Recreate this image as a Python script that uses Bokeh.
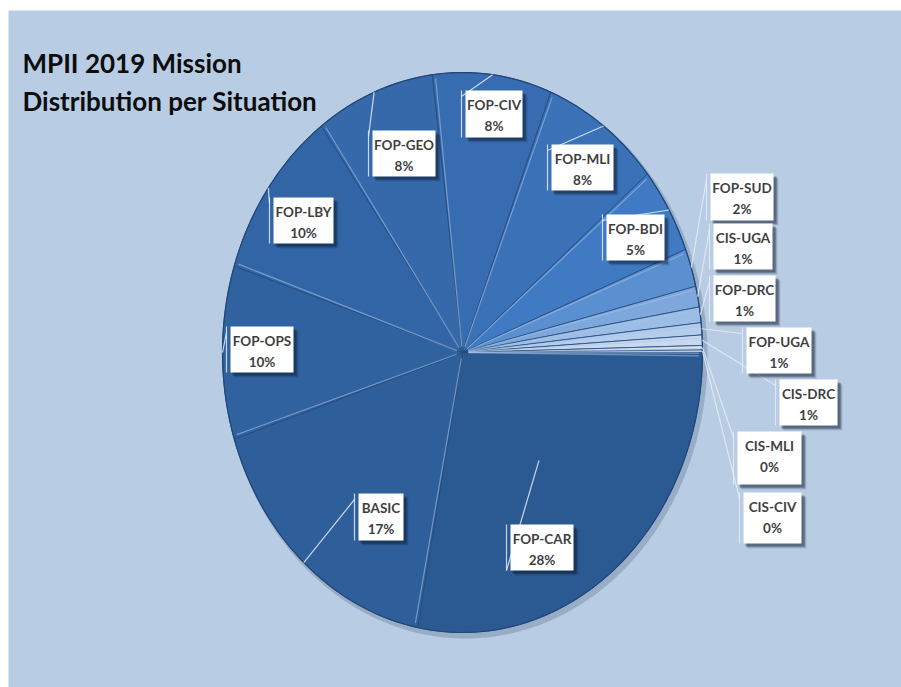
import numpy as np
from bokeh.plotting import figure
from bokeh.models import Range1d, ColumnDataSource
from bokeh.core.properties import value
from bokeh.embed import file_html
from bokeh.resources import INLINE

# ---- data ----
situations = ["FOP-CAR", "BASIC", "FOP-OPS", "FOP-LBY", "FOP-GEO", "FOP-CIV", "FOP-MLI",
              "FOP-BDI", "FOP-SUD", "CIS-UGA", "FOP-DRC", "FOP-UGA", "CIS-DRC", "CIS-MLI", "CIS-CIV"]
shares = [28.0, 17.0, 10.0, 10.0, 8.0, 8.0, 8.0, 5.0, 2.2, 1.2, 0.9, 0.7, 0.6, 0.25, 0.15]
pct_labels = ["28%", "17%", "10%", "10%", "8%", "8%", "8%", "5%", "2%", "1%", "1%", "1%", "1%", "0%", "0%"]

# ---- styling / layout ----
slice_colors = ["#2b5a93", "#2e5f9b", "#3062a0", "#3265a5", "#3569aa", "#376cb0", "#3a71b7",
                "#3f7ac2", "#5a8fd0", "#7ea8dc", "#9cbde5", "#b5cdec", "#c8d8ee", "#d6dfea", "#bcc8d6"]
# label box: left, top, width, height (page pixels)
box_left = [510, 358, 230, 273, 372, 465, 551, 606, 710, 713, 713, 746, 779, 737, 743]
box_top = [524, 493, 326, 197, 130, 90, 144, 214, 173, 223, 275, 327, 379, 431, 492]
box_w = [63, 45, 63, 60, 63, 57, 62, 58, 63, 59, 62, 65, 58, 64, 58]
box_h = [46, 47, 46, 46, 46, 47, 46, 46, 47, 46, 46, 46, 46, 53, 51]
leader_r = [0.5, 1.0, 1.0, 1.0, 1.0, 1.0, 1.0, 1.0, 1.0, 1.0, 1.0, 1.0, 1.0, 1.0, 1.0]
attach = ["bottom", "top", "top", "top", "top", "top", "top", "top", "top", "top", "top", "top", "top", "top", "top"]

W, H = 901, 687
cx, cy, rx, ry = 462.0, 352.0, 240.0, 280.0
bg = "#b8cce4"

p = figure(width=W, height=H, output_backend="svg", toolbar_location=None,
           x_range=Range1d(0, W), y_range=Range1d(H, 0), min_border=0)
p.axis.visible = False
p.grid.visible = False
p.outline_line_color = None
p.background_fill_color = "white"
p.border_fill_color = "white"

# light blue panel
p.quad(left=[8], right=[W], top=[10], bottom=[H], fill_color=bg, line_color=None)

# ---- pie slices (clockwise from 3 o'clock), drawn as ellipse wedges ----
vals = np.array(shares, dtype=float)
frac = vals / vals.sum()
ends = np.cumsum(frac) * 2 * np.pi
starts = ends - frac * 2 * np.pi
mids = (starts + ends) / 2

xs, ys = [], []
for a0, a1 in zip(starts, ends):
    n = max(4, int((a1 - a0) / (2 * np.pi) * 360))
    t = np.linspace(a0, a1, n)
    xs.append([cx] + list(cx + rx * np.cos(t)) + [cx])
    ys.append([cy] + list(cy + ry * np.sin(t)) + [cy])

# soft shadow of the pie
ts = np.linspace(0, 2 * np.pi, 240)
p.patch(cx + 3 + (rx + 2) * np.cos(ts), cy + 4 + (ry + 2) * np.sin(ts),
        fill_color="#5a6f8c", fill_alpha=0.35, line_color=None)

p.patches(xs, ys, fill_color=slice_colors, line_color="#234a7c", line_width=1.0, line_alpha=0.8)

# bevel highlights along the leading edge of each slice
hx, hy = [], []
for a0 in starts:
    a = a0 + 0.012
    hx.append([cx + 6 * np.cos(a), cx + rx * 0.985 * np.cos(a)])
    hy.append([cy + 6 * np.sin(a), cy + ry * 0.985 * np.sin(a)])
p.multi_line(hx, hy, line_color="#a9c4e8", line_alpha=0.55, line_width=1.2)
p.patch(cx + rx * np.cos(ts), cy + ry * np.sin(ts), fill_color=None,
        line_color="#21477a", line_width=1.2)

# ---- leader lines ----
lx, ly = [], []
for i in range(len(situations)):
    sx = cx + rx * leader_r[i] * np.cos(mids[i])
    sy = cy + ry * leader_r[i] * np.sin(mids[i])
    ex = box_left[i] - 4
    top = box_top[i]
    bot = box_top[i] + box_h[i]
    ey = bot if attach[i] == "bottom" else top + 6
    lx.append([sx, ex])
    ly.append([sy, ey])
    lx.append([ex, ex])
    ly.append([top, bot])
p.multi_line(lx, ly, line_color="#e4ecf7", line_alpha=0.85, line_width=1.2)

# ---- label boxes ----
bl = np.array(box_left, float)
bt = np.array(box_top, float)
bw = np.array(box_w, float)
bh = np.array(box_h, float)
for k, al in [(5, 0.12), (4, 0.2), (3, 0.35)]:
    p.quad(left=bl + k - 1, right=bl + bw + k, top=bt + k, bottom=bt + bh + k,
           fill_color="#0b1a2e", fill_alpha=al, line_color=None)
p.quad(left=bl, right=bl + bw, top=bt, bottom=bt + bh, fill_color="white", line_color=None)

src = ColumnDataSource(dict(
    x=bl + bw / 2, y1=bt + 14, y2=bt + 35,
    name=situations, pct=pct_labels))
p.text(x="x", y="y1", text="name", source=src, text_align="center", text_baseline="middle",
       text_font=value("Lato"), text_font_style="bold", text_font_size="13.5px", text_color="#3f3f3f")
p.text(x="x", y="y2", text="pct", source=src, text_align="center", text_baseline="middle",
       text_font=value("Lato"), text_font_style="bold", text_font_size="13.5px", text_color="#3f3f3f")

# ---- title ----
p.text(x=[22, 22], y=[62, 100], text=["MPII 2019 Mission", "Distribution per Situation"],
       text_align="left", text_baseline="alphabetic",
       text_font=value("Lato"), text_font_style="bold", text_font_size="26px", text_color="#0d0d0d")

open("out.html", "w").write(file_html(p, INLINE))
